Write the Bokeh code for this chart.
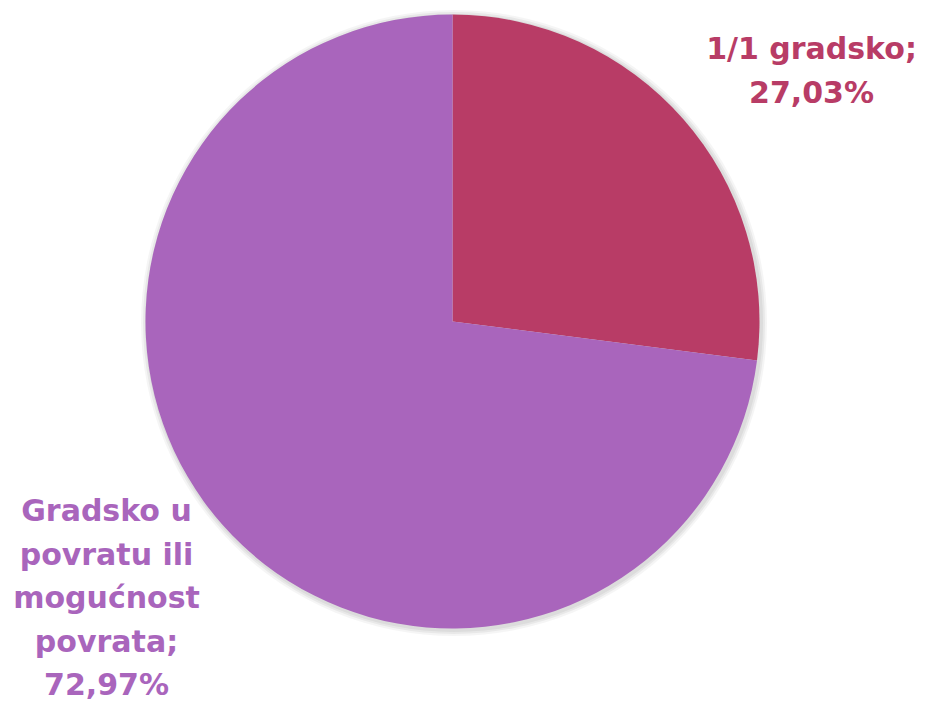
import math
from bokeh.plotting import figure
from bokeh.models import Range1d
from bokeh.core.properties import value
from bokeh.embed import file_html
from bokeh.resources import INLINE

categories = ["1/1 gradsko", "Gradsko u\npovratu ili\nmogućnost\npovrata"]
shares = [27.03, 72.97]
colors = ["#B83C66", "#A965BC"]

W, H = 920, 701
p = figure(width=W, height=H, output_backend="svg", toolbar_location=None,
           x_range=Range1d(0, W), y_range=Range1d(0, H), min_border=0)
p.axis.visible = False
p.grid.visible = False
p.outline_line_color = None

def sy(y):
    return H - y

cx, cy, r = 452, sy(321), 307

# soft shadow
for i, a in enumerate([0.05, 0.05, 0.04]):
    p.circle(x=[cx + 1.5], y=[cy - 1.5], radius=r + 2 + i * 2, fill_color="black",
             fill_alpha=a, line_color=None)

total = sum(shares)
start = math.pi / 2
for cat, v, c in zip(categories, shares, colors):
    sweep = 2 * math.pi * v / total
    p.wedge(x=[cx], y=[cy], radius=r, start_angle=[start - sweep], end_angle=[start],
            fill_color=c, line_color=None)
    start -= sweep

label_pos = [(811, 48, 44), (106, 510, 43.5)]
for cat, v, c, (lx, ly, ls) in zip(categories, shares, colors, label_pos):
    lines = cat.split("\n")
    lines[-1] = lines[-1] + ";"
    lines.append(f"{v:.2f}".replace(".", ",") + "%")
    ys = [sy(ly + i * ls) for i in range(len(lines))]
    p.text(x=[lx] * len(lines), y=ys, text=lines, text_align="center",
           text_baseline="middle", text_color=c, text_font=value("DejaVu Sans"),
           text_font_style="bold", text_font_size="30px")

open("out.html", "w").write(file_html(p, INLINE))
